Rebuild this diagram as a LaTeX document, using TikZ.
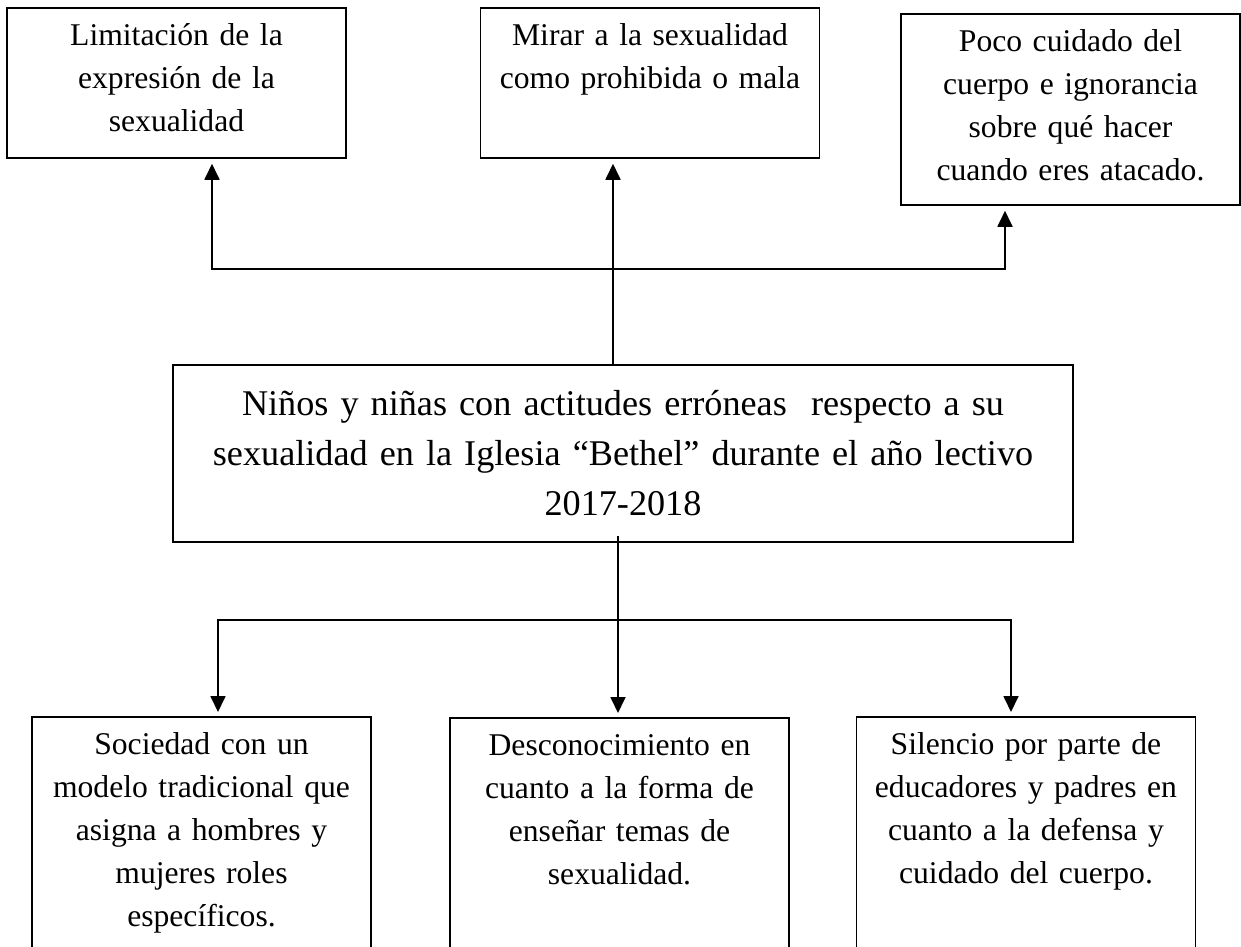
\documentclass[tikz,border=0pt]{standalone}
\usepackage{fontspec}
\setmainfont{Liberation Serif}
\usetikzlibrary{arrows.meta}

\begin{document}
\begin{tikzpicture}[>={Triangle[length=0.32cm,width=0.3cm]}, line width=1pt,
    caja/.style={draw, anchor=north, align=center, text width=6.3cm, inner xsep=0.24cm,
        inner ysep=0.25cm, text height=0.5cm, font=\fontsize{18}{24.5}\selectfont}]
    \useasboundingbox (0,0) rectangle (24.82,-18.94);
    \clip (0,0) rectangle (24.82,-18.94);

    % efectos (arriba)
    \node[caja, text depth=2.0cm] (lim) at (3.53,-0.14) {Limitación de la\\ expresión de la\\ sexualidad};
    \node[caja, text depth=2.0cm] (mir) at (13.0,-0.14) {Mirar a la sexualidad\\ como prohibida o mala};
    \node[caja, text depth=2.82cm] (poc) at (21.41,-0.26) {Poco cuidado del\\ cuerpo e ignorancia\\ sobre qué hacer\\ cuando eres atacado.};

    % problema central
    \node[draw, align=center, text width=17.4cm, inner xsep=0.3cm, minimum height=3.54cm,
        font=\fontsize{20.6}{28.5}\selectfont] (nin) at (12.46,-9.07)
        {Niños y niñas con actitudes erróneas\ \ respecto a su\\ sexualidad en la Iglesia “Bethel” durante el año lectivo\\ 2017-2018};

    % causas (abajo)
    \node[caja, text depth=3.9cm] (soc) at (4.03,-14.32) {Sociedad con un\\ modelo tradicional que\\ asigna a hombres y\\ mujeres roles\\ específicos.};
    \node[caja, text depth=3.9cm] (des) at (12.39,-14.34) {Desconocimiento en\\ cuanto a la forma de\\ enseñar temas de\\ sexualidad.};
    \node[caja, text depth=3.9cm] (sil) at (20.52,-14.32) {Silencio por parte de\\ educadores y padres en\\ cuanto a la defensa y\\ cuidado del cuerpo.};

    % ramas hacia los efectos
    \coordinate (s1) at (4.24,-5.38);
    \coordinate (s2) at (12.26,-5.38);
    \coordinate (s3) at (20.1,-5.38);
    \draw[->, shorten >=0.1cm] (s2) -- (s1) -- (s1 |- lim.south);
    \draw[->, shorten >=0.1cm] (s2) -- (s3) -- (s3 |- poc.south);
    \draw[->, shorten >=0.1cm] (nin.north -| s2) -- (s2) -- (s2 |- mir.south);

    % ramas desde las causas
    \coordinate (b1) at (4.36,-12.4);
    \coordinate (b2) at (12.36,-12.4);
    \coordinate (b3) at (20.22,-12.4);
    \draw[->, shorten >=0.08cm] (b2) -- (b1) -- (b1 |- soc.north);
    \draw[->, shorten >=0.08cm] (b2) -- (b3) -- (b3 |- sil.north);
    \draw[->, shorten <=-0.14cm, shorten >=0.08cm] (nin.south -| b2) -- (b2 |- des.north);
\end{tikzpicture}
\end{document}
